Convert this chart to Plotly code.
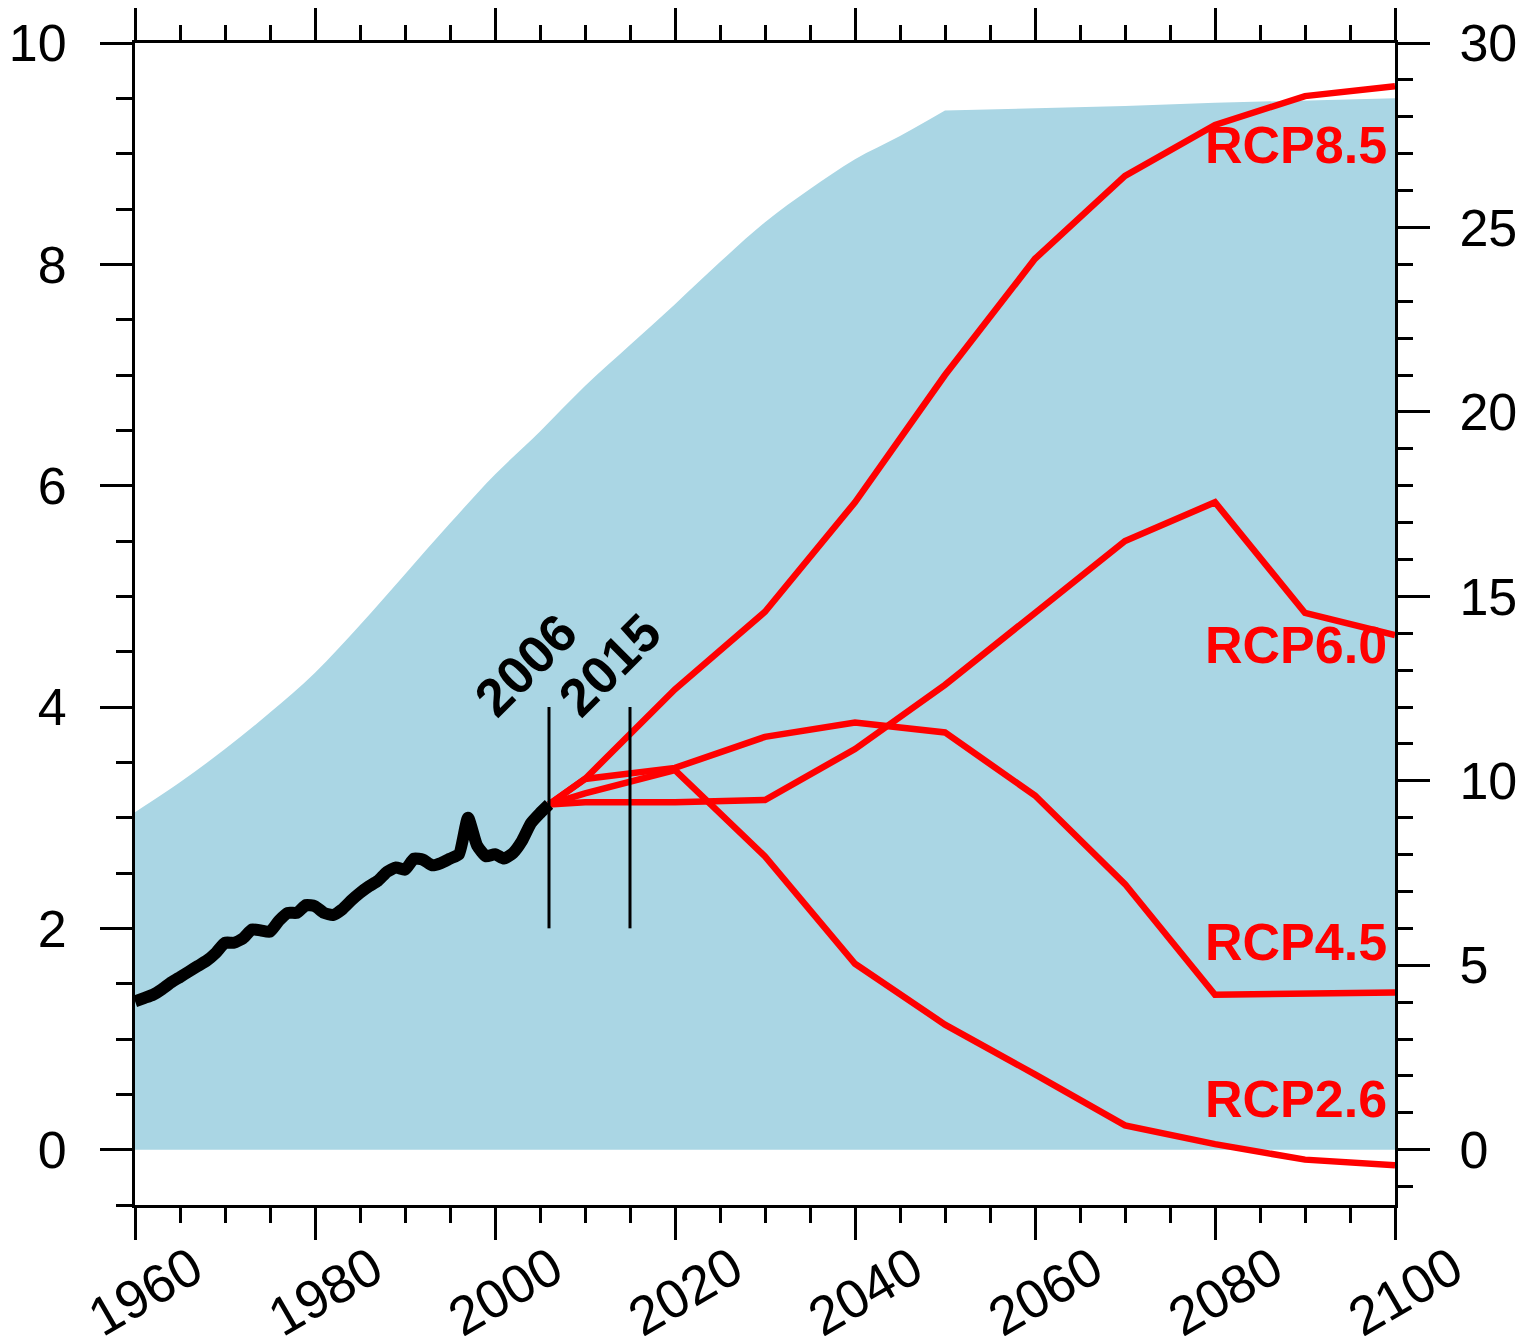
import plotly.graph_objects as go

# ---------------- data ----------------
hist_years = list(range(1960, 2007))
hist_vals = [1.34, 1.37, 1.40, 1.45, 1.51, 1.56, 1.61, 1.66, 1.71, 1.78,
             1.87, 1.87, 1.91, 1.99, 1.98, 1.97, 2.07, 2.14, 2.14, 2.21,
             2.20, 2.14, 2.12, 2.17, 2.25, 2.32, 2.38, 2.43, 2.51, 2.55,
             2.53, 2.63, 2.62, 2.57, 2.59, 2.63, 2.67, 3.00, 2.75, 2.65,
             2.67, 2.63, 2.68, 2.79, 2.95, 3.04, 3.12]

rcp_years = [2006, 2010, 2020, 2030, 2040, 2050, 2060, 2070, 2080, 2090, 2100]
rcp85 = [3.12, 3.35, 4.16, 4.86, 5.85, 7.00, 8.05, 8.80, 9.26, 9.52, 9.61]
rcp60 = [3.12, 3.14, 3.14, 3.16, 3.62, 4.20, 4.85, 5.50, 5.85, 4.85, 4.65]
rcp45 = [3.12, 3.35, 3.45, 3.73, 3.86, 3.77, 3.20, 2.40, 1.40, 1.41, 1.42]
rcp26 = [3.12, 3.22, 3.43, 2.65, 1.68, 1.13, 0.68, 0.22, 0.05, -0.09, -0.14]
rcp_names = ["RCP8.5", "RCP6.0", "RCP4.5", "RCP2.6"]
rcp_label_y = [9.08, 4.56, 1.88, 0.46]

env_rise_years = [1960, 1965, 1970, 1975, 1980, 1985, 1990, 1995, 2000, 2005,
                  2010, 2015, 2020, 2025, 2030, 2035, 2040, 2045, 2050]
env_rise = [3.05, 3.32, 3.62, 3.95, 4.31, 4.74, 5.20, 5.66, 6.10, 6.49,
            6.90, 7.27, 7.64, 8.02, 8.38, 8.68, 8.95, 9.16, 9.39]
env_flat_years = [2050, 2060, 2070, 2080, 2090, 2100]
env_flat = [9.39, 9.41, 9.43, 9.46, 9.48, 9.50]

marker_years = [2006, 2015]
marker_span = [2, 4]
marker_label_y = 4.38

x_ticks = [1960, 1980, 2000, 2020, 2040, 2060, 2080, 2100]
x_ticktext = [str(v) for v in x_ticks]
y_left_range = [-0.5, 10]
y_right_range = [-1.5, 30]

FONT = "Liberation Sans, Arial, Helvetica, sans-serif"
RED = "#FF0000"
BLUE = "#AAD6E4"
XTICKSIZE = 54
YTICKSIZE = 52

fig = go.Figure()

fig.add_trace(go.Scatter(x=env_rise_years, y=env_rise, mode="lines", fill="tozeroy",
                         fillcolor=BLUE, line=dict(width=0, color=BLUE, shape="spline", smoothing=1.0),
                         hoverinfo="skip", showlegend=False))
fig.add_trace(go.Scatter(x=env_flat_years, y=env_flat, mode="lines", fill="tozeroy",
                         fillcolor=BLUE, line=dict(width=0, color=BLUE),
                         hoverinfo="skip", showlegend=False))

for vals, name in zip([rcp85, rcp60, rcp45, rcp26], rcp_names):
    fig.add_trace(go.Scatter(x=rcp_years, y=vals, mode="lines", name=name,
                             line=dict(color=RED, width=6.5), showlegend=False))

fig.add_trace(go.Scatter(x=hist_years, y=hist_vals, mode="lines",
                         line=dict(color="black", width=12, shape="spline", smoothing=0.5),
                         showlegend=False))

# invisible trace to activate the right axis
fig.add_trace(go.Scatter(x=[x_ticks[-1]], y=[y_right_range[0]], yaxis="y2",
                         mode="lines", opacity=0, hoverinfo="skip", showlegend=False))

for yr in marker_years:
    fig.add_shape(type="line", xref="x", yref="y", x0=yr, x1=yr,
                  y0=marker_span[0], y1=marker_span[1],
                  line=dict(color="black", width=3))

for yr, sh in zip(marker_years, [-23, -20]):
    fig.add_annotation(x=yr, y=marker_label_y, xref="x", yref="y", xshift=sh,
                       text=str(yr), showarrow=False, textangle=-45,
                       font=dict(family=FONT, size=53, color="black", weight="bold"))

for name, ly in zip(rcp_names, rcp_label_y):
    fig.add_annotation(x=x_ticks[-1], y=ly, xref="x", yref="y", xanchor="right",
                       yanchor="middle", xshift=-6, text=name, showarrow=False,
                       font=dict(family=FONT, size=52, color=RED, weight="bold"))

for v, t in zip(x_ticks, x_ticktext):
    fig.add_annotation(x=v, y=-0.074, xref="x", yref="paper", xshift=10,
                       xanchor="center", yanchor="middle", text=t,
                       showarrow=False, textangle=-30,
                       font=dict(family=FONT, size=XTICKSIZE, color="black"))

axis_common = dict(showgrid=False, zeroline=False, showline=True, linecolor="black",
                   linewidth=3, ticks="outside", tickcolor="black", tickwidth=3,
                   ticklen=32, automargin=False)

fig.update_layout(
    width=1512, height=1328,
    margin=dict(l=127, r=125, t=35, b=131, autoexpand=False),
    paper_bgcolor="white", plot_bgcolor="white",
    font=dict(family=FONT, size=YTICKSIZE, color="black"),
    xaxis=dict(range=[1960, 2100], tickvals=x_ticks, showticklabels=False,
               mirror="ticks",
               minor=dict(dtick=5, tick0=1960, ticklen=15, tickwidth=2.5,
                          ticks="outside", tickcolor="black"),
               **axis_common),
    yaxis=dict(range=y_left_range, dtick=2, tick0=0,
               tickfont=dict(size=YTICKSIZE, family=FONT, color="black"),
               ticklabelstandoff=23,
               minor=dict(dtick=0.5, tick0=0, ticklen=16, tickwidth=2.5,
                          ticks="outside", tickcolor="black"),
               **axis_common),
    yaxis2=dict(range=y_right_range, overlaying="y", side="right", dtick=5, tick0=0,
                tickfont=dict(size=YTICKSIZE, family=FONT, color="black"),
                ticklabelstandoff=19,
                minor=dict(dtick=1, tick0=0, ticklen=15, tickwidth=2.5,
                           ticks="outside", tickcolor="black"),
                **axis_common),
)

fig.write_html("out.html")
